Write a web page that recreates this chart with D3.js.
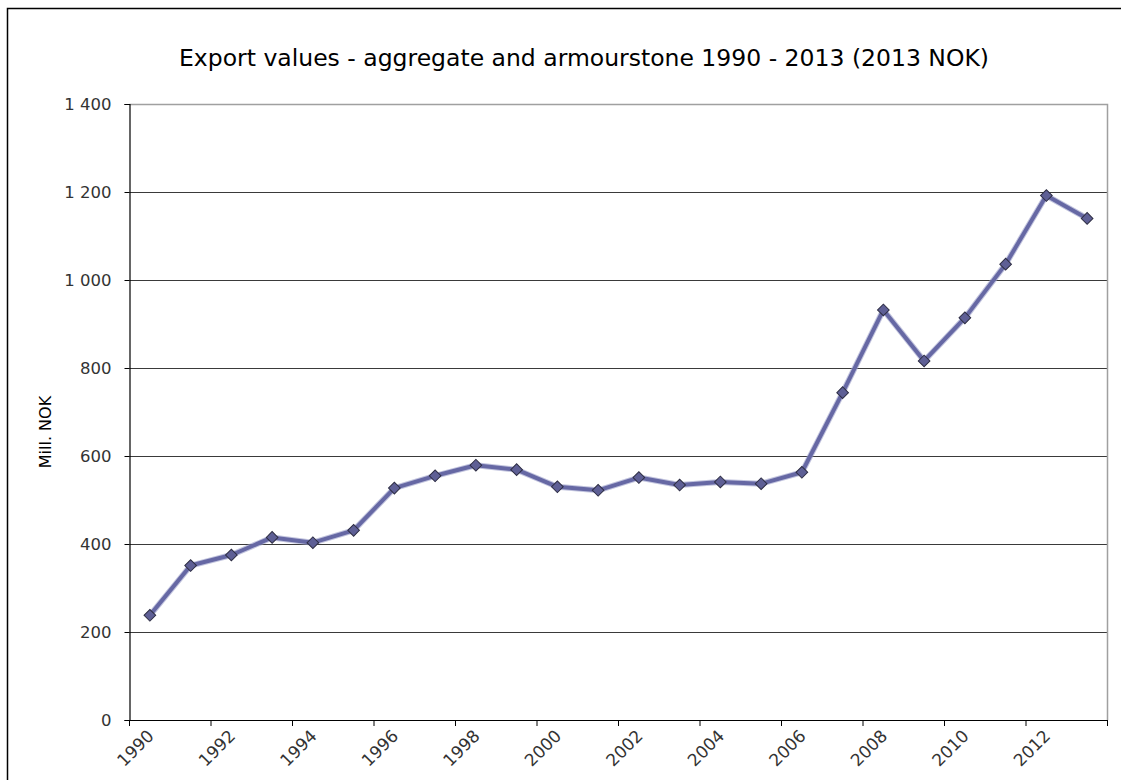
<!DOCTYPE html>
<html>
<head>
<meta charset="utf-8">
<script src="https://cdn.jsdelivr.net/npm/d3@7/dist/d3.min.js"></script>
<style>
  html, body { margin: 0; padding: 0; background: #fff; }
  svg { display: block; }
</style>
</head>
<body>
<svg id="chart" width="1122" height="780"></svg>
<script>
const years = [1990,1991,1992,1993,1994,1995,1996,1997,1998,1999,2000,2001,2002,2003,2004,2005,2006,2007,2008,2009,2010,2011,2012,2013];
const values = [238,351,375,415,403,431,527,555,579,569,530,522,551,534,541,537,563,744,932,816,914,1036,1192,1140];
const yTicks = [0,200,400,600,800,1000,1200,1400];
const title = "Export values - aggregate and armourstone 1990 - 2013 (2013 NOK)";
const yLabel = "Mill. NOK";

(function () {
const svg = d3.select("#chart");
const font = "'DejaVu Sans', Verdana, sans-serif";

const pLeft = 129.5, pRight = 1107.5, pTop = 104, pBottom = 720;

// outer frame
svg.append("path")
  .attr("d", `M7.5,790 L7.5,8.5 L1121,8.5`)
  .attr("fill", "none").attr("stroke", "#000").attr("stroke-width", 1.5);

const x = d3.scaleBand().domain(years).range([pLeft, pRight]).paddingInner(0).paddingOuter(0);
const y = d3.scaleLinear().domain([0, 1400]).range([pBottom, pTop]);

// gridlines
svg.append("g").selectAll("line").data(yTicks.filter(d => d > 0 && d < 1400)).join("line")
  .attr("x1", pLeft).attr("x2", pRight)
  .attr("y1", d => Math.round(y(d)) + 0.5).attr("y2", d => Math.round(y(d)) + 0.5)
  .attr("stroke", "#3a3a3a").attr("stroke-width", 1);

// plot area top and right border
svg.append("path")
  .attr("d", `M${pLeft},${Math.round(y(1400)) + 0.5} L${pRight},${Math.round(y(1400)) + 0.5} L${pRight},${pBottom}`)
  .attr("fill", "none").attr("stroke", "#a0a0a0").attr("stroke-width", 1.5);

// y axis
const fmt = d => d >= 1000 ? d3.format(",")(d).replace(",", " ") : String(d);
const yAxis = d3.axisLeft(y).tickValues(yTicks).tickSize(5).tickPadding(13).tickFormat(fmt);
const gy = svg.append("g").attr("transform", `translate(${pLeft},0)`).call(yAxis);
gy.attr("font-size", null).attr("font-family", null);
gy.select(".domain").attr("stroke", "#000").attr("stroke-width", 1.2);
gy.selectAll(".tick line").attr("stroke", "#000");
gy.selectAll(".tick text").style("font-family", font).style("font-size", "16.5px").attr("fill", "#333");

// x axis: ticks between categories every 2 years
const tickPos = [];
for (let i = 0; i <= years.length; i += 2) tickPos.push(pLeft + i * x.bandwidth());
const gx = svg.append("g");
gx.append("line").attr("x1", pLeft).attr("x2", pRight).attr("y1", pBottom + 0.5).attr("y2", pBottom + 0.5)
  .attr("stroke", "#000").attr("stroke-width", 1.2);
gx.selectAll("line.t").data(tickPos).join("line").attr("class", "t")
  .attr("x1", d => d).attr("x2", d => d).attr("y1", pBottom).attr("y2", pBottom + 6)
  .attr("stroke", "#000");
gx.selectAll("text").data(years.filter((d, i) => i % 2 === 0)).join("text")
  .attr("transform", d => `translate(${x(d) + x.bandwidth() / 2 + 5},${pBottom + 17}) rotate(-45)`)
  .attr("text-anchor", "end")
  .style("font-family", font).style("font-size", "17px").attr("fill", "#333")
  .text(d => d);

// y label
svg.append("text")
  .attr("transform", `translate(51,${432}) rotate(-90)`)
  .attr("text-anchor", "middle")
  .style("font-family", font).style("font-size", "16px").attr("fill", "#000")
  .text(yLabel);

// title
svg.append("text")
  .attr("x", 584).attr("y", 66)
  .attr("text-anchor", "middle")
  .style("font-family", font).style("font-size", "23.5px").attr("fill", "#000")
  .text(title);

// line
const cx = d => x(d) + x.bandwidth() / 2;
const line = d3.line().x((d, i) => cx(years[i])).y(d => y(d));
svg.append("path").datum(values).attr("d", line)
  .attr("fill", "none").attr("stroke", "#9a9cc8").attr("stroke-width", 6).attr("stroke-linejoin", "round").attr("opacity", 0.6);
svg.append("path").datum(values).attr("d", line)
  .attr("fill", "none").attr("stroke", "#6668a4").attr("stroke-width", 4).attr("stroke-linejoin", "round");

// markers
svg.append("g").selectAll("path").data(values).join("path")
  .attr("d", d3.symbol().type(d3.symbolSquare).size(68))
  .attr("transform", (d, i) => `translate(${cx(years[i])},${y(d)}) rotate(45)`)
  .attr("fill", "#5e5f95").attr("stroke", "#2e2e44").attr("stroke-width", 1);
})();
</script>
</body>
</html>
